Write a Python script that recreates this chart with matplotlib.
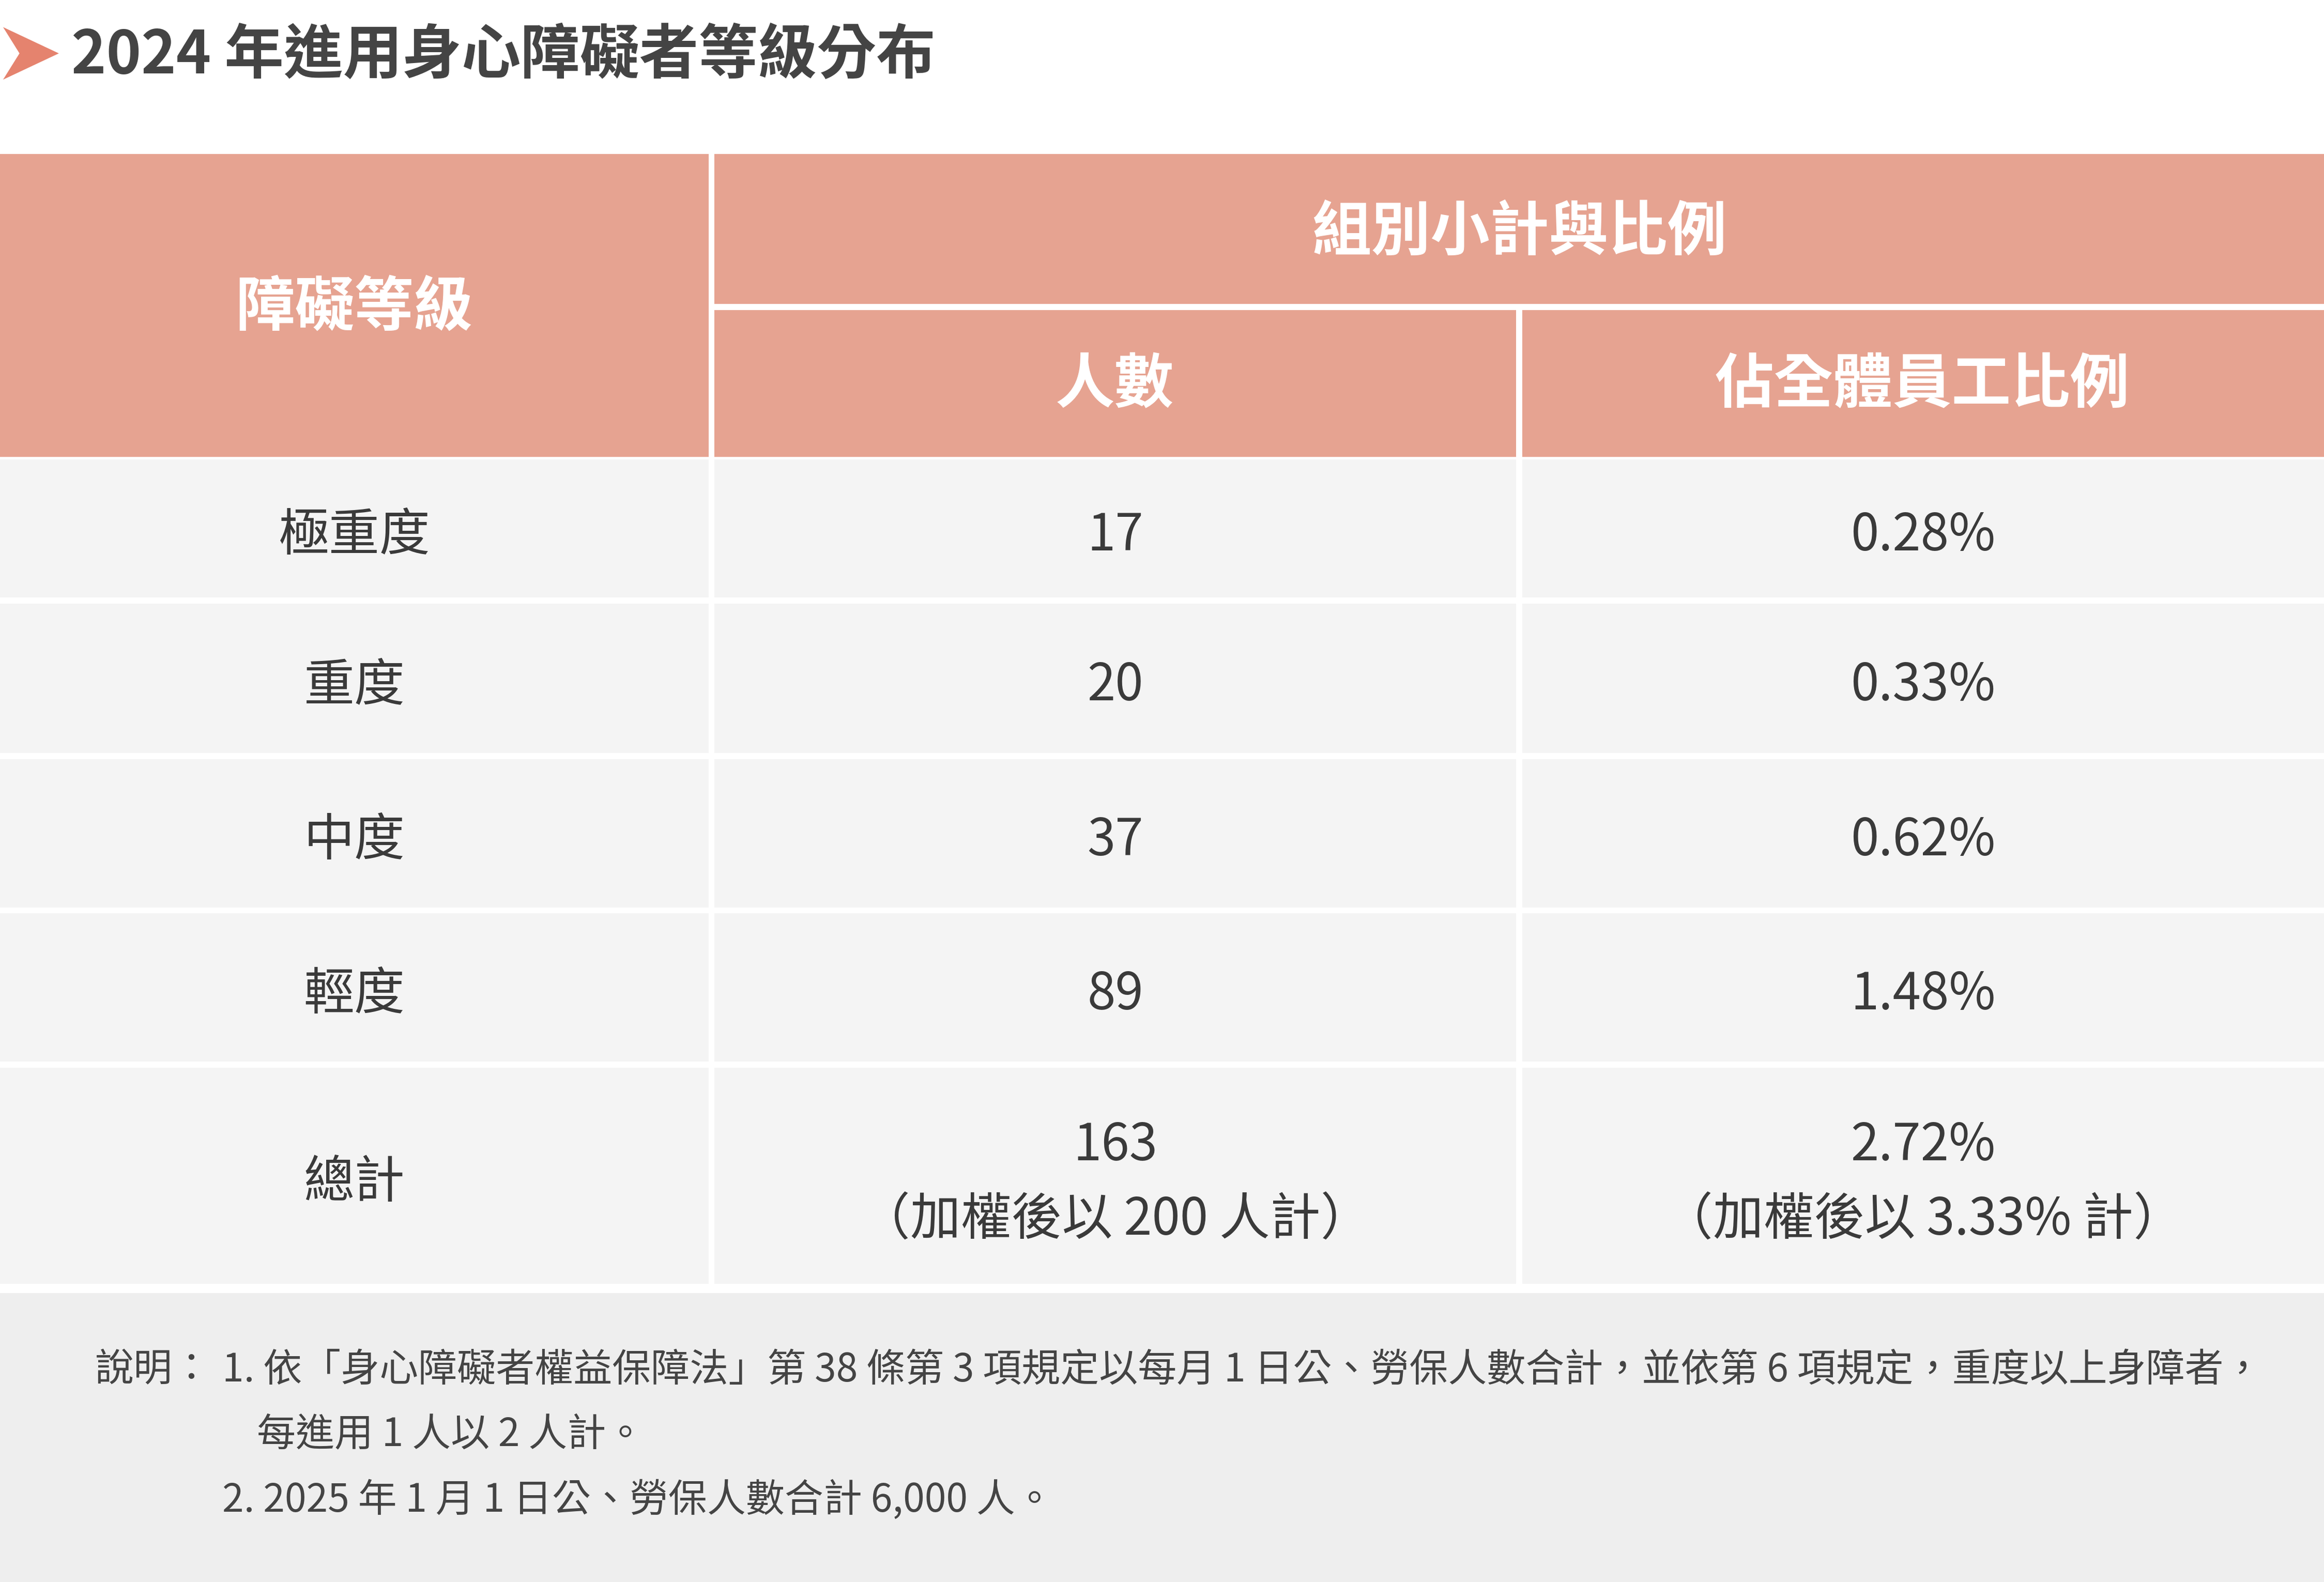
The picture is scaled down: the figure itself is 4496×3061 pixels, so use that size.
import matplotlib.pyplot as plt
from matplotlib.patches import Rectangle, Polygon

plt.rcParams['font.family'] = ['Noto Sans CJK TC', 'DejaVu Sans']

title = "2024 年進用身心障礙者等級分布"
levels = ["極重度", "重度", "中度", "輕度", "總計"]
counts = ["17", "20", "37", "89", "163\n（加權後以 200 人計）"]
ratios = ["0.28%", "0.33%", "0.62%", "1.48%", "2.72%\n（加權後以 3.33% 計）"]
note_label = "說明："
notes = [
    "1. 依「身心障礙者權益保障法」第 38 條第 3 項規定以每月 1 日公、勞保人數合計，並依第 6 項規定，重度以上身障者，",
    "    每進用 1 人以 2 人計。",
    "2. 2025 年 1 月 1 日公、勞保人數合計 6,000 人。",
]

W, H = 1568, 1067
HEAD = "#E6A391"
BODY = "#F4F4F4"
NOTE = "#EEEEEE"
TXT = "#3A3A3A"

fig = plt.figure(figsize=(4496 / 300, 3061 / 300), dpi=300)
ax = fig.add_axes([0, 0, 1, 1])
ax.set_xlim(0, W)
ax.set_ylim(H, 0)
ax.axis("off")

# title
ax.add_patch(Polygon([[4, 20], [38, 36], [4, 52], [14, 36]], color="#E5836E"))
ax.text(48, 38, title, fontsize=27.5, fontweight="bold", color="#444444", va="center")

cols = [(0, 478), (482, 1023), (1027, 1568)]

def cell(x0, x1, y0, y1, c):
    ax.add_patch(Rectangle((x0, y0), x1 - x0, y1 - y0, color=c, lw=0))

# header
cell(0, 478, 104, 308, HEAD)
cell(482, 1568, 104, 205, HEAD)
cell(482, 1023, 209, 308, HEAD)
cell(1027, 1568, 209, 308, HEAD)
hk = dict(fontsize=27.5, fontweight="bold", color="white", ha="center", va="center")
ax.text(239, 208, "障礙等級", **hk)
ax.text(1025, 157, "組別小計與比例", **hk)
ax.text(752, 260, "人數", **hk)
ax.text(1297, 260, "佔全體員工比例", **hk)

rows = [(310, 403), (407, 508), (512, 612), (616, 716), (720, 866)]
for (y0, y1), lv, ct, rt in zip(rows, levels, counts, ratios):
    for (x0, x1), s in zip(cols, [lv, ct, rt]):
        cell(x0, x1, y0, y1, BODY)
        ax.text((x0 + x1) / 2, (y0 + y1) / 2 + 5, s, fontsize=23.5, color=TXT,
                ha="center", va="center", linespacing=1.55)

cell(0, 1568, 872, 1067, NOTE)
ax.text(64, 924, note_label, fontsize=18, color="#444444", va="center")
for i, n in enumerate(notes):
    ax.text(150, 924 + i * 44, n, fontsize=18, color="#444444", va="center")

fig.savefig("out.png", dpi=300, facecolor="white")
